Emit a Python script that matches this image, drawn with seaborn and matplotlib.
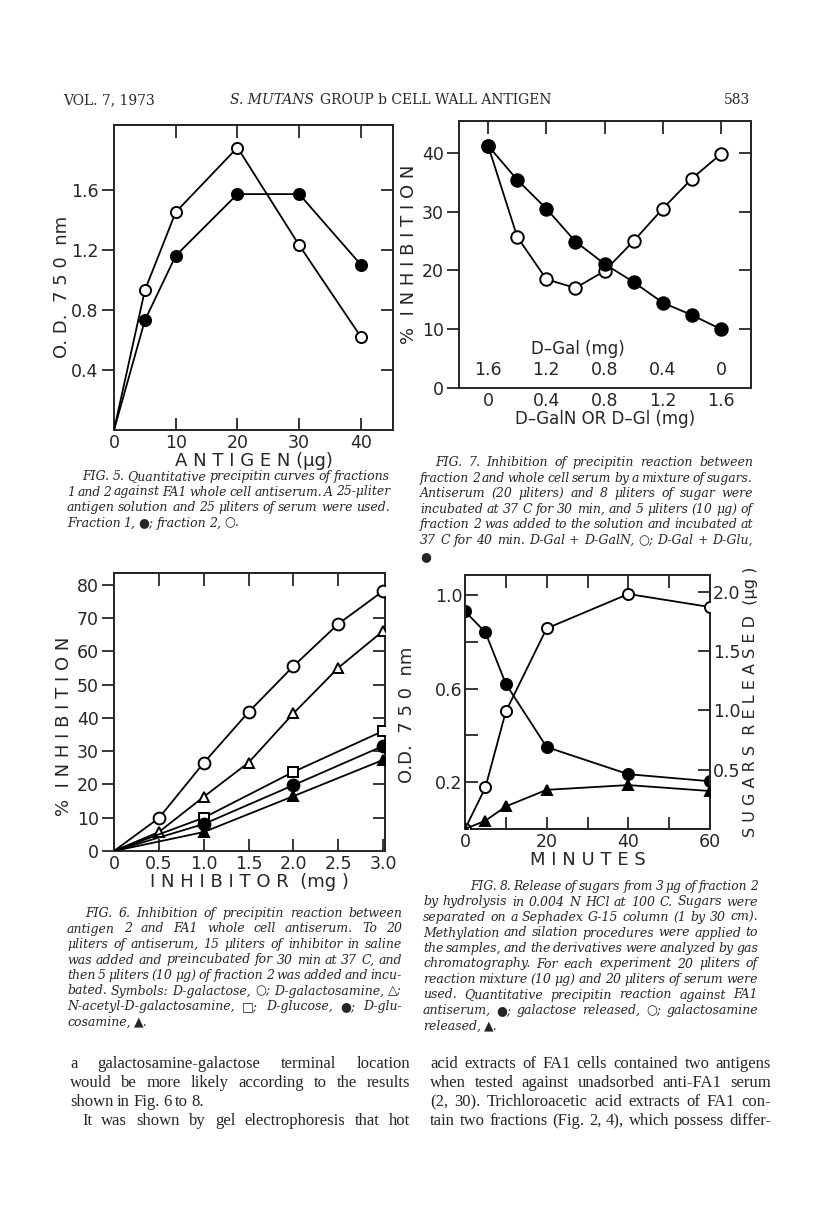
import numpy as np
import pandas as pd
import matplotlib
matplotlib.use('Agg')
import matplotlib.pyplot as plt
import seaborn as sns

# 页面 583 上的四幅图: Fig. 5 - Fig. 8

# Fig. 5 定量沉淀曲线
antigen_ug = [0, 5, 10, 20, 30, 40]
frac1_od = [0, 0.73, 1.16, 1.57, 1.57, 1.10]
frac2_od = [0, 0.93, 1.45, 1.88, 1.23, 0.62]

# Fig. 7 糖混合物抑制
galn_mg = [0, 0.2, 0.4, 0.6, 0.8, 1.0, 1.2, 1.4, 1.6]
gal_galn_inh = [41.2, 25.7, 18.5, 17.0, 19.9, 25.0, 30.5, 35.6, 39.8]
gal_glu_inh = [41.2, 35.4, 30.5, 24.9, 21.1, 18.0, 14.5, 12.4, 10.0]
galn_ticks = [0, 0.4, 0.8, 1.2, 1.6]
galn_labels = ['0', '0.4', '0.8', '1.2', '1.6']
gal_labels = ['1.6', '1.2', '0.8', '0.4', '0']

# Fig. 6 抑制剂
inh_mg_a = [0, 0.5, 1.0, 1.5, 2.0, 2.5, 3.0]
galactose = [0, 9.9, 26.5, 41.8, 55.6, 68.3, 78.2]
galactosamine = [0, 5.7, 16.3, 26.6, 41.4, 55.1, 66.2]
inh_mg_b = [0, 1.0, 2.0, 3.0]
n_acetyl = [0, 10.0, 23.8, 36.1]
glucose = [0, 8.1, 19.8, 31.6]
glucosamine = [0, 5.7, 16.5, 27.4]

# Fig. 8 水解释放
minutes = [0, 5, 10, 20, 40, 60]
od_fa1 = [0.93, 0.84, 0.62, 0.35, 0.234, 0.204]
gal_released = [0, 0.35, 0.99, 1.69, 1.98, 1.87]
galn_released = [0, 0.07, 0.19, 0.33, 0.37, 0.32]

sns.set_style('ticks')
plt.rcParams['font.family'] = ['DejaVu Sans']
plt.rcParams['axes.linewidth'] = 1.4
plt.rcParams['axes.unicode_minus'] = False

W, H = 816, 1230
fig = plt.figure(figsize=(W / 100, H / 100), dpi=100)
fig.patch.set_facecolor('white')


def add_ax(x0, y0, x1, y1):
    return fig.add_axes([x0 / W, 1 - y1 / H, (x1 - x0) / W, (y1 - y0) / H])


def draw(ax, x, y, marker, filled, ms=8, skip_origin=False):
    every = list(range(1, len(x))) if skip_origin else None
    sns.lineplot(x=x, y=y, ax=ax, color='black', lw=1.3, marker=marker, markersize=ms,
                 markerfacecolor='black' if filled else 'white', markevery=every,
                 markeredgecolor='black', markeredgewidth=1.4, zorder=3)


def frame(ax, xt, xl, yt, yl, top, right, left_dir='out', bottom_len=9, fs=12.5):
    ax.set_xticks(xt)
    ax.set_xticklabels(xl)
    ax.set_yticks(yt)
    ax.set_yticklabels(yl)
    ax.tick_params(axis='x', direction='in', length=bottom_len, width=1.3, labelsize=fs, pad=3)
    ax.tick_params(axis='y', direction=left_dir, length=9, width=1.3, labelsize=fs, pad=2)
    if top is not None:
        sx = ax.secondary_xaxis('top')
        sx.set_xticks(top)
        sx.set_xticklabels([])
        sx.tick_params(direction='in', length=9, width=1.3)
    if right is not None:
        sy = ax.secondary_yaxis('right')
        sy.set_yticks(right)
        sy.set_yticklabels([])
        sy.tick_params(direction='in', length=9, width=1.3)


# ---- Fig. 5 ----
ax5 = add_ax(114, 125, 393, 430)
draw(ax5, antigen_ug, frac2_od, 'o', False, 8, skip_origin=True)
draw(ax5, antigen_ug, frac1_od, 'o', True, 8, skip_origin=True)
ax5.set_xlim(0, 45.2)
ax5.set_ylim(0, 2.03)
frame(ax5, [0, 10, 20, 30, 40], ['0', '10', '20', '30', '40'],
      [0.4, 0.8, 1.2, 1.6], ['0.4', '0.8', '1.2', '1.6'],
      [10, 20, 30, 40], [0.4, 0.8, 1.2, 1.6])
ax5.set_xlabel('A N T I G E N (μg)', fontsize=13, labelpad=0)
ax5.set_ylabel('O. D.  7 5 0  nm', fontsize=13)
ax5.yaxis.set_label_coords(-0.155, 0.47)

# ---- Fig. 7 ----
ax7 = add_ax(459, 121, 751, 388)
draw(ax7, galn_mg, gal_galn_inh, 'o', False, 9)
draw(ax7, galn_mg, gal_glu_inh, 'o', True, 9)
ax7.set_xlim(-0.2, 1.806)
ax7.set_ylim(0, 45.4)
frame(ax7, galn_ticks, galn_labels, [0, 10, 20, 30, 40], ['0', '10', '20', '30', '40'],
      galn_ticks, [10, 20, 30, 40], bottom_len=0)
for xv, lab in zip(galn_ticks, gal_labels):
    ax7.text(xv, 3.0, lab, ha='center', va='center', fontsize=12.5)
ax7.text(0.62, 6.6, 'D–Gal (mg)', ha='center', va='center', fontsize=12)
ax7.set_xlabel('D–GalN OR D–Gl (mg)', fontsize=12, labelpad=0)
ax7.set_ylabel('%  I N H I B I T I O N', fontsize=13)
ax7.yaxis.set_label_coords(-0.14, 0.5)

# ---- Fig. 6 ----
ax6 = add_ax(114, 573, 385, 851)
draw(ax6, inh_mg_a, galactose, 'o', False, 8.5, skip_origin=True)
draw(ax6, inh_mg_a, galactosamine, '^', False, 7, skip_origin=True)
draw(ax6, inh_mg_b, n_acetyl, 's', False, 7, skip_origin=True)
draw(ax6, inh_mg_b, glucose, 'o', True, 8.5, skip_origin=True)
draw(ax6, inh_mg_b, glucosamine, '^', True, 7, skip_origin=True)
ax6.set_xlim(0, 3.02)
ax6.set_ylim(0, 83.6)
frame(ax6, inh_mg_a, ['0', '0.5', '1.0', '1.5', '2.0', '2.5', '3.0'],
      [0, 10, 20, 30, 40, 50, 60, 70, 80], ['0', '10', '20', '30', '40', '50', '60', '70', '80'],
      [0.5, 1.0, 1.5, 2.0, 2.5], [10, 20, 30, 40, 50, 60, 70])
ax6.set_xlabel('I N H I B I T O R  (mg )', fontsize=13, labelpad=0)
ax6.set_ylabel('%  I N H I B I T I O N', fontsize=13)
ax6.yaxis.set_label_coords(-0.15, 0.45)

# ---- Fig. 8 ----
ax8 = add_ax(465, 575, 710, 829)
draw(ax8, minutes, od_fa1, 'o', True, 8)
ax8.set_xlim(0, 60)
ax8.set_ylim(0, 1.085)
frame(ax8, [0, 10, 20, 30, 40, 50, 60], ['0', '', '20', '', '40', '', '60'],
      [0.2, 0.4, 0.6, 0.8, 1.0], ['0.2', '', '0.6', '', '1.0'],
      [10, 20, 30, 40, 50], None, left_dir='in')
ax8r = ax8.twinx()
draw(ax8r, minutes, gal_released, 'o', False, 8)
draw(ax8r, minutes, galn_released, '^', True, 6.5)
ax8r.set_ylim(0, 2.14)
ax8r.set_yticks([0.5, 1.0, 1.5, 2.0])
ax8r.set_yticklabels(['0.5', '1.0', '1.5', '2.0'])
ax8r.tick_params(axis='y', direction='in', length=9, width=1.3, labelsize=12.5, pad=2)
ax8.set_xlabel('M I N U T E S', fontsize=13, labelpad=0)
ax8.set_ylabel('O.D.  7 5 0  nm', fontsize=13)
ax8.yaxis.set_label_coords(-0.2, 0.45)
ax8r.set_ylabel('S U G A R S  R E L E A S E D  (μg )', fontsize=11.5, rotation=90, labelpad=2)

# ---- 文字部分 ----
renderer = fig.canvas.get_renderer()
serif_i = dict(family=['DejaVu Serif', 'DejaVu Sans'], style='italic', size=9)
body = dict(family=['Liberation Serif', 'DejaVu Serif'], size=12)


def para(lines, x0, x1, y0, dy, props, indent=0, ragged_last=True, space=3.0):
    for i, line in enumerate(lines):
        y = y0 + i * dy
        xs = x0 + (indent if i == 0 else 0)
        words = line.split(' ')
        texts = [fig.text(0, 1 - y / H, w, va='center_baseline', ha='left', **props) for w in words]
        widths = [t.get_window_extent(renderer).width for t in texts]
        last = ragged_last and i == len(lines) - 1
        avail = x1 - xs - (len(words) - 1) * 2.5
        if sum(widths) > avail:
            k = avail / sum(widths)
            for t in texts:
                t.set_fontsize(props['size'] * k)
            widths = [t.get_window_extent(renderer).width for t in texts]
        if last or len(words) == 1:
            gap = space
        else:
            gap = (x1 - xs - sum(widths)) / (len(words) - 1)
        x = xs
        for t, w in zip(texts, widths):
            t.set_x(x / W)
            x += w + gap


fig5_cap = ['FIG. 5. Quantitative precipitin curves of fractions',
            '1 and 2 against FA1 whole cell antiserum. A 25-μliter',
            'antigen solution and 25 μliters of serum were used.',
            'Fraction 1, ●; fraction 2, ○.']
fig7_cap = ['FIG. 7. Inhibition of precipitin reaction between',
            'fraction 2 and whole cell serum by a mixture of sugars.',
            'Antiserum (20 μliters) and 8 μliters of sugar were',
            'incubated at 37 C for 30 min, and 5 μliters (10 μg) of',
            'fraction 2 was added to the solution and incubated at',
            '37 C for 40 min. D-Gal + D-GalN, ○; D-Gal + D-Glu,',
            '●']
fig6_cap = ['FIG. 6. Inhibition of precipitin reaction between',
            'antigen 2 and FA1 whole cell antiserum. To 20',
            'μliters of antiserum, 15 μliters of inhibitor in saline',
            'was added and preincubated for 30 min at 37 C, and',
            'then 5 μliters (10 μg) of fraction 2 was added and incu-',
            'bated. Symbols: D-galactose, ○; D-galactosamine, △;',
            'N-acetyl-D-galactosamine, □; D-glucose, ●; D-glu-',
            'cosamine, ▲.']
fig8_cap = ['FIG. 8. Release of sugars from 3 μg of fraction 2',
            'by hydrolysis in 0.004 N HCl at 100 C. Sugars were',
            'separated on a Sephadex G-15 column (1 by 30 cm).',
            'Methylation and silation procedures were applied to',
            'the samples, and the derivatives were analyzed by gas',
            'chromatography. For each experiment 20 μliters of',
            'reaction mixture (10 μg) and 20 μliters of serum were',
            'used. Quantitative precipitin reaction against FA1',
            'antiserum, ●; galactose released, ○; galactosamine',
            'released, ▲.']
body_left = ['a galactosamine-galactose terminal location',
             'would be more likely according to the results',
             'shown in Fig. 6 to 8.']
body_left2 = ['It was shown by gel electrophoresis that hot']
body_right = ['acid extracts of FA1 cells contained two antigens',
              'when tested against unadsorbed anti-FA1 serum',
              '(2, 30). Trichloroacetic acid extracts of FA1 con-',
              'tain two fractions (Fig. 2, 4), which possess differ-']

para(fig5_cap, 67, 390, 475, 15.5, serif_i, indent=15)
para(fig7_cap, 420, 753, 461, 15.6, serif_i, indent=15)
para(fig6_cap, 67, 402, 912, 15.5, serif_i, indent=18)
para(fig8_cap, 423, 758, 885, 15.5, serif_i, indent=47)
para(body_left, 70, 410, 1062, 19, body, space=3.5)
para(body_left2, 70, 410, 1119, 19, body, indent=12, ragged_last=False)
para(body_right, 430, 771, 1062, 19, body, ragged_last=False)

# 页眉
head = dict(family=['DejaVu Serif'], size=10)
fig.text(63 / W, 1 - 99 / H, 'VOL. 7, 1973', va='center_baseline', ha='left', **head)
t1 = fig.text(230 / W, 1 - 99 / H, 'S. MUTANS', va='center_baseline', ha='left', style='italic', **head)
w1 = t1.get_window_extent(renderer).width
fig.text((230 + w1 + 6) / W, 1 - 99 / H, 'GROUP b CELL WALL ANTIGEN', va='center_baseline', ha='left', **head)
fig.text(750 / W, 1 - 99 / H, '583', va='center_baseline', ha='right', **head)

fig.savefig('out.png', dpi=100, facecolor='white')
